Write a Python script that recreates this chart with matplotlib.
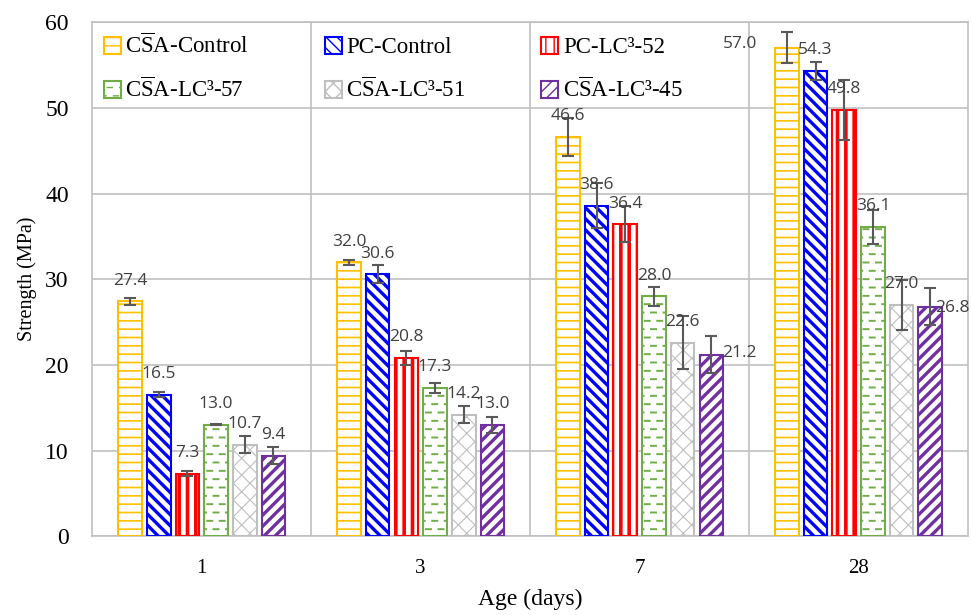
## Compressive strength bar chart with hatched bars

import warnings
import numpy as np
import matplotlib
matplotlib.use("Agg")
import matplotlib.pyplot as plt
from matplotlib import hatch as mhatch
from matplotlib.path import Path

warnings.filterwarnings('ignore')

plt.rcParams['font.family'] = ['Liberation Serif', 'DejaVu Serif']
plt.rcParams['mathtext.fontset'] = 'custom'
plt.rcParams['mathtext.rm'] = 'Liberation Serif'

## DATA

ages = ['1', '3', '7', '28']
mixes = [r'C$\overline{\mathrm{S}}$A-Control', 'PC-Control', 'PC-LC³-52',
         r'C$\overline{\mathrm{S}}$A-LC³-57', r'C$\overline{\mathrm{S}}$A-LC³-51',
         r'C$\overline{\mathrm{S}}$A-LC³-45']

csa_control = [27.4, 32.0, 46.6, 57.0]
pc_control = [16.5, 30.6, 38.6, 54.3]
pc_lc3_52 = [7.3, 20.8, 36.4, 49.8]
csa_lc3_57 = [13.0, 17.3, 28.0, 36.1]
csa_lc3_51 = [10.7, 14.2, 22.6, 27.0]
csa_lc3_45 = [9.4, 13.0, 21.2, 26.8]

csa_control_err = [0.4, 0.3, 2.2, 1.8]
pc_control_err = [0.3, 1.0, 2.6, 1.1]
pc_lc3_52_err = [0.3, 0.8, 2.1, 3.5]
csa_lc3_57_err = [0.05, 0.6, 1.1, 2.0]
csa_lc3_51_err = [1.0, 1.0, 3.1, 2.9]
csa_lc3_45_err = [1.0, 0.9, 2.2, 2.2]

values = [csa_control, pc_control, pc_lc3_52, csa_lc3_57, csa_lc3_51, csa_lc3_45]
errors = [csa_control_err, pc_control_err, pc_lc3_52_err, csa_lc3_57_err,
          csa_lc3_51_err, csa_lc3_45_err]


## dashed horizontal hatch (Excel "dashed horizontal" look), char '='
class DashedHorizontalHatch(mhatch.HatchPatternBase):
    def __init__(self, hatch, density):
        self.num_rows = int(hatch.count('=') * density)
        self.num_dash = 8
        self.num_vertices = self.num_rows * self.num_dash * 2

    def set_vertices_and_codes(self, vertices, codes):
        k = 0
        for r in range(self.num_rows):
            y = (r + 0.5) / self.num_rows
            shift = 0.5 / self.num_dash if r % 2 else 0.0
            for d in range(self.num_dash):
                x0 = d / self.num_dash + shift + 0.01
                vertices[k] = (x0, y)
                vertices[k + 1] = (x0 + 0.05, y)
                codes[k] = Path.MOVETO
                codes[k + 1] = Path.LINETO
                k += 2


mhatch._hatch_types.append(DashedHorizontalHatch)

## STYLE

colors = ['#FFC000', '#0000FF', '#FF0000', '#70AD47', '#BFBFBF', '#7030A0']
hatches = ['--', '\\\\\\', '||', '==', 'xx', '///']
hatch_lw = [1.2, 2.4, 2.6, 1.4, 0.8, 2.4]

# label nudges in points (only where Excel moved the label)
nudge = {(0, 3): (-34, -12), (5, 2): (20, -14), (5, 3): (16, -16)}

## PLOT

fig = plt.figure(figsize=(9.71, 6.15), dpi=100)
ax = fig.add_axes([0.095, 0.128, 0.902, 0.836])

x = np.arange(len(ages))
step = 0.131
width = 0.108
offsets = (np.arange(len(mixes)) - 2.5) * step

handles = []
for i in range(len(mixes)):
    with plt.rc_context({'hatch.linewidth': hatch_lw[i]}):
        bars = ax.bar(x + offsets[i], values[i], width, facecolor='white',
                      edgecolor=colors[i], hatch=hatches[i], linewidth=1.5,
                      label=mixes[i], zorder=3)
    handles.append(bars)
    ax.errorbar(x + offsets[i], values[i], yerr=errors[i], fmt='none',
                ecolor='#595959', elinewidth=1.5, capsize=4, capthick=1.5, zorder=4)
    for j, v in enumerate(values[i]):
        dx, dy = nudge.get((i, j), (0, 0))
        ax.annotate(f'{v:.1f}', (x[j] + offsets[i], v + 2.4), xytext=(dx, dy),
                    textcoords='offset points', ha='center', va='center',
                    fontsize=12.5, color='#404040', family='Open Sans', zorder=5)

ax.set_xlim(-0.5, 3.5)
ax.set_ylim(0, 60)
ax.set_yticks(np.arange(0, 61, 10))
ax.set_xticks(x)
ax.set_xticklabels(ages)
ax.tick_params(length=0, colors='black')
ax.tick_params(axis='x', pad=16, labelsize=15)
ax.tick_params(axis='y', pad=17, labelsize=17)

ax.grid(axis='y', color='#C0C0C0', linewidth=1.2, zorder=0)
for b in [0.5, 1.5, 2.5]:
    ax.axvline(b, color='#C0C0C0', linewidth=1.2, zorder=0)
for s in ax.spines.values():
    s.set_color('#C0C0C0')
    s.set_linewidth(1.2)

ax.set_xlabel('Age (days)', fontsize=17, labelpad=8)
ax.set_ylabel('Strength (MPa)', fontsize=14.5, labelpad=6)

order = [0, 3, 1, 4, 2, 5]
ax.legend([handles[k] for k in order], [mixes[k] for k in order], ncol=3,
          loc='upper left', bbox_to_anchor=(0.0, 1.0), frameon=False,
          fontsize=16.5, handlelength=0.75, handleheight=0.75, handletextpad=0.2,
          columnspacing=3.3, labelspacing=0.85, borderaxespad=0.1)

plt.savefig('out.png', dpi=100)
plt.close()
